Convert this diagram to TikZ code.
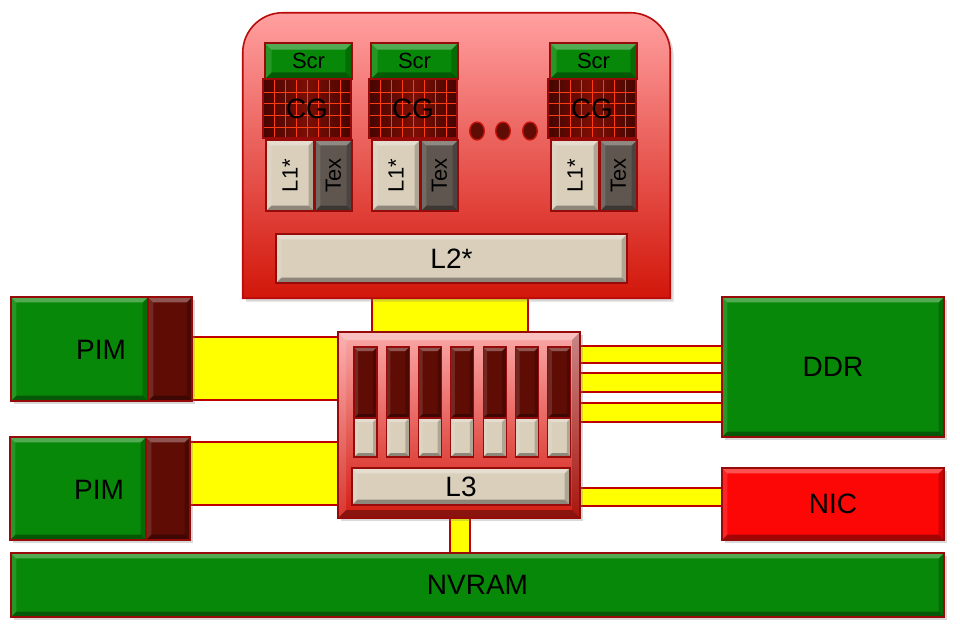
\documentclass[tikz,border=0pt]{standalone}
\usepackage{fontspec}
\setmainfont{Liberation Sans}
\usepackage{graphicx}
\usetikzlibrary{shapes.geometric, fit, calc, shadows, backgrounds}

\definecolor{edgeRed}{RGB}{150,10,10}
\definecolor{pimGreen}{RGB}{8,136,8}
\definecolor{portRed}{RGB}{95,12,5}
\definecolor{cacheBeige}{RGB}{218,207,187}
\definecolor{texGray}{RGB}{95,86,80}
\definecolor{nicRed}{RGB}{252,6,6}
\definecolor{busYellow}{RGB}{255,255,0}
\definecolor{busEdge}{RGB}{190,0,0}
\definecolor{gpuTop}{RGB}{255,160,160}
\definecolor{gpuMid}{RGB}{240,95,90}
\definecolor{gpuBottom}{RGB}{210,22,10}
\definecolor{cgDark}{RGB}{70,4,0}
\definecolor{cgMid}{RGB}{125,15,5}
\definecolor{cgLine}{RGB}{255,60,20}

\newcommand{\bigtext}{\fontsize{21}{22}\selectfont}
\newcommand{\smalltext}{\fontsize{16.5}{18}\selectfont}

\begin{document}
\begin{tikzpicture}[
	x=0.75pt, y=-0.75pt,
	Bevel/.style={path picture={
		\fill[white, opacity=.3] (path picture bounding box.north west) -- (path picture bounding box.north east)
			-- ([shift={(-#1,-#1)}]path picture bounding box.north east) -- ([shift={(#1,-#1)}]path picture bounding box.north west) -- cycle;
		\fill[white, opacity=.12] (path picture bounding box.north west) -- (path picture bounding box.south west)
			-- ([shift={(#1,#1)}]path picture bounding box.south west) -- ([shift={(#1,-#1)}]path picture bounding box.north west) -- cycle;
		\fill[black, opacity=.2] (path picture bounding box.north east) -- (path picture bounding box.south east)
			-- ([shift={(-#1,#1)}]path picture bounding box.south east) -- ([shift={(-#1,-#1)}]path picture bounding box.north east) -- cycle;
		\fill[black, opacity=.35] (path picture bounding box.south west) -- (path picture bounding box.south east)
			-- ([shift={(-#1,#1)}]path picture bounding box.south east) -- ([shift={(#1,#1)}]path picture bounding box.south west) -- cycle;
	}},
	SoftShadow/.style={drop shadow={opacity=.3, shadow xshift=2.5pt, shadow yshift=-2.5pt}},
	MyBox/.style={draw=edgeRed, line width=0.8pt, inner sep=0pt, Bevel=4pt, font=\bigtext},
	GreenBox/.style={MyBox, fill=pimGreen, SoftShadow},
	PortBox/.style={MyBox, fill=portRed},
	BeigeBox/.style={MyBox, fill=cacheBeige},
	TexBox/.style={MyBox, fill=texGray, font=\smalltext},
	ScrBox/.style={MyBox, fill=pimGreen, font=\smalltext, Bevel=5pt},
	CgBox/.style={draw=edgeRed, line width=0.8pt, inner sep=0pt, font=\bigtext,
		left color=cgDark, right color=cgDark, middle color=cgMid,
		path picture={
			\foreach \f in {0.125,0.25,...,0.9}
				\draw[cgLine, line width=0.7pt] ($(path picture bounding box.north west)!\f!(path picture bounding box.north east)$)
					-- ($(path picture bounding box.south west)!\f!(path picture bounding box.south east)$);
			\foreach \f in {0.22,0.42,0.62,0.82}
				\draw[cgLine, line width=0.7pt] ($(path picture bounding box.north west)!\f!(path picture bounding box.south west)$)
					-- ($(path picture bounding box.north east)!\f!(path picture bounding box.south east)$);
		}},
	CoreDot/.style={ellipse, fill=portRed, draw={rgb,255:red,200;green,20;blue,10}, line width=1pt,
		minimum width=11pt, minimum height=13.5pt, inner sep=0pt},
	Bus/.style={fill=busYellow, draw=busEdge, line width=1.2pt},
	LabelText/.style={font=\bigtext, inner sep=0pt}
	]

\useasboundingbox (0,0) rectangle (960,626);

% GPU container
\node [fit={(243,13) (670,298)}, inner sep=0pt] (gpu) {};
\shade [top color=gpuTop, middle color=gpuMid, bottom color=gpuBottom, draw={rgb,255:red,185;green,10;blue,10},
	line width=1.2pt, SoftShadow]
	(gpu.south west) [rounded corners=30pt] -- (gpu.north west) -- (gpu.north east) [sharp corners] -- (gpu.south east) -- cycle;

% cores
\foreach \cx/\n in {265/a, 371/b, 550/c} {
	\node [ScrBox, fit={(\cx,43) (\cx+87,79)}, label={[font=\smalltext]center:Scr}] (scr-\n) {};
	\node [CgBox, fit={(\cx-2,79) (\cx+86,138)}, label={[font=\bigtext]center:CG}] (cg-\n) {};
	\node [BeigeBox, fit={(\cx+1,140) (\cx+49,211)}, label={[font=\smalltext, rotate=90]center:L1*}] (lone-\n) {};
	\node [TexBox, fit={(\cx+50,140) (\cx+87,211)}, label={[font=\smalltext, rotate=90]center:Tex}] (tex-\n) {};
}
\foreach \dx [count=\k] in {477,503,530}
	\node [CoreDot] (dot\k) at (\dx,131) {};

\node [BeigeBox, fit={(276,234) (627,283)}, label={[LabelText]center:L2*}] (ltwo) {};

% crossbar with L3
\node [MyBox, top color={rgb,255:red,250;green,168;blue,168}, bottom color={rgb,255:red,212;green,28;blue,18},
	SoftShadow, Bevel=6pt, fit={(338,332) (580,518)}] (xbar) {};
\foreach \i in {0,...,6} {
	\node [PortBox, Bevel=3pt, fit={(354+32.3*\i,347) (377+32.3*\i,418)}] (bar-top\i) {};
	\node [BeigeBox, Bevel=3pt, fit={(354+32.3*\i,418) (377+32.3*\i,457)}] (bar-low\i) {};
}
\node [BeigeBox, fit={(352,468) (570,505)}, label={[LabelText]center:L3}] (lthree) {};

% memories and devices
\node [GreenBox, fit={(11,297) (148,401)}] (pim1) {};
\node [PortBox, SoftShadow, fit={(148,297) (192,401)}] (pim1port) {};
\node [LabelText] (pim1label) at (101,350) {PIM};
\node [GreenBox, fit={(10,437) (146,540)}] (pim2) {};
\node [PortBox, SoftShadow, fit={(146,437) (190,540)}] (pim2port) {};
\node [LabelText] (pim2label) at (99,490) {PIM};

\node [GreenBox, fit={(722,297) (944,437)}, label={[LabelText]center:DDR}] (ddr) {};
\node [MyBox, fill=nicRed, SoftShadow, fit={(722,468) (944,540)}, label={[LabelText]center:NIC}] (nic) {};
\node [GreenBox, fit={(11,553) (944,617)}, label={[LabelText]center:NVRAM}] (nvram) {};

% buses
\begin{scope}[on background layer]
	\draw [Bus] (gpu.south -| 372,0) rectangle (xbar.north -| 528,0);
	\draw [Bus] (pim1port.east |- 0,337) rectangle (xbar.west |- 0,400);
	\draw [Bus] (pim2port.east |- 0,442) rectangle (xbar.west |- 0,505);
	\foreach \ya/\yb in {346/363, 373/392, 403/422}
		\draw [Bus] (xbar.east |- 0,\ya) rectangle (ddr.west |- 0,\yb);
	\draw [Bus] (xbar.east |- 0,488) rectangle (nic.west |- 0,506);
	\draw [Bus] (xbar.south -| 450,0) rectangle (nvram.north -| 470,0);
\end{scope}

\end{tikzpicture}
\end{document}
